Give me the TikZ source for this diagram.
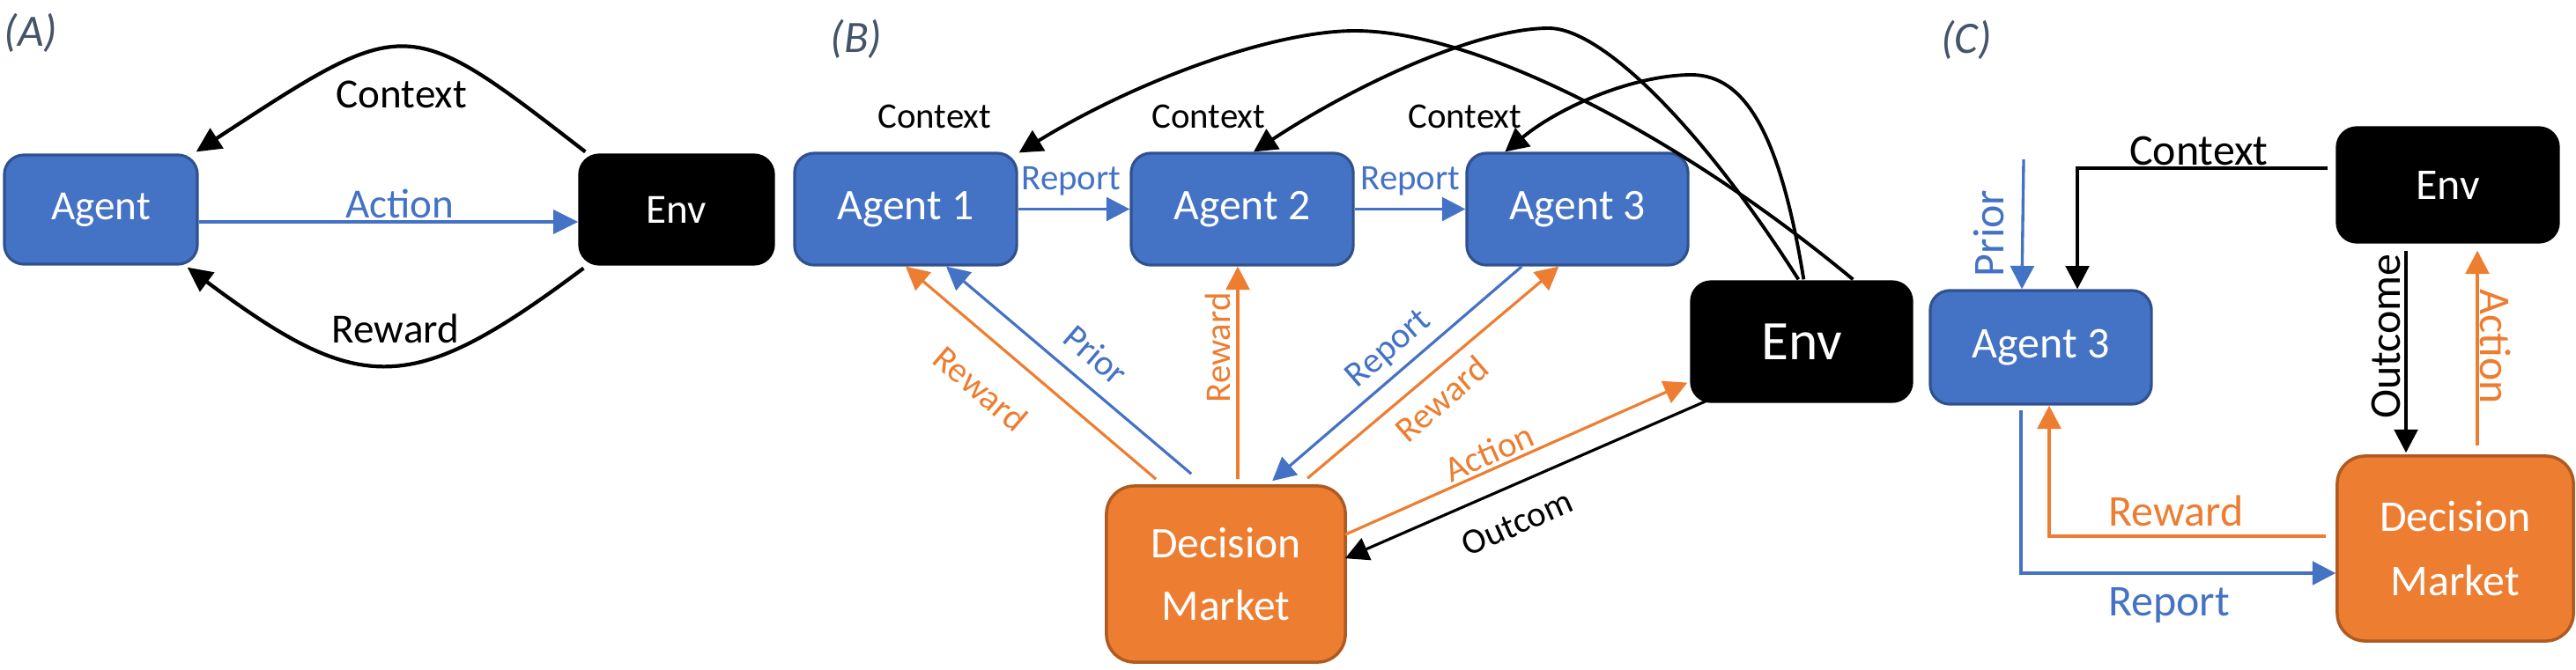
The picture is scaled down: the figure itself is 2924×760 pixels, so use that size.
\documentclass[tikz,border=0pt]{standalone}
\usepackage{fontspec}
\setmainfont{Carlito}
\usetikzlibrary{arrows.meta,calc}
\definecolor{blueF}{HTML}{4472C4}
\definecolor{blueD}{HTML}{2F528F}
\definecolor{orangeF}{HTML}{ED7D31}
\definecolor{orangeD}{HTML}{AE5A21}
\definecolor{panelgray}{HTML}{44546A}
\begin{document}
\begin{tikzpicture}[x=0.01cm,y=-0.01cm,
 tip/.style={-{Triangle[length=7.5pt,width=7.6pt]}},
 tipA/.style={-{Triangle[length=8pt,width=7.6pt]}},
 agentbox/.style={draw=blueD,fill=blueF,line width=0.9pt,rounded corners=6.3pt,text=white,inner sep=0pt},
 envbox/.style={draw=black,fill=black,line width=0.9pt,rounded corners=6.3pt,text=white,inner sep=0pt},
 dmbox/.style={draw=orangeD,fill=orangeF,line width=1pt,rounded corners=9pt,text=white,inner sep=0pt,align=center},
 fA/.style={font=\fontsize{13.4}{16}\selectfont},
 fB/.style={font=\fontsize{14.1}{20}\selectfont},
 fS/.style={font=\fontsize{11.6}{14}\selectfont},
 fC/.style={font=\fontsize{14.2}{20.5}\selectfont},
 panel/.style={font=\fontsize{14.5}{17}\selectfont\itshape,text=panelgray},
 wA/.style={line width=1.2pt},
 wB/.style={line width=0.9pt},
 wBc/.style={line width=1.1pt},
 wC/.style={line width=0.95pt},
]
\useasboundingbox (0,0) rectangle (2924,760);

% ---------------- (A) ----------------
\node[panel] (pA) at (35,37) {(A)};
\node[agentbox,fA,minimum width=2.19cm,minimum height=1.24cm] (agentA) at (114.5,238) {Agent};
\node[envbox,fA,minimum width=2.20cm,minimum height=1.24cm] (envA) at (768,238) {Env};
\draw[wA,tipA,blueF] ($(agentA.east)+(0,14)$) -- ($(envA.west)+(0,14)$);
\draw[wA,tipA] ($(envA.north west)+(8,-2)$) .. controls (461,15) and (463,15) .. ($(agentA.north east)+(-3,-2)$);
\draw[wA,tipA] ($(envA.south west)+(6,3)$) .. controls (467,451) and (410,451) .. ($(agentA.south east)+(-13,2)$);
\node[fA] (lctxA) at (456,107) {Context};
\node[fA,text=blueF] (lactA) at (454,231) {Action};
\node[fA] (lrewA) at (449,373) {Reward};

% ---------------- (B) ----------------
\node[panel] (pB) at (972,44) {(B)};
\node[agentbox,fB,minimum width=2.52cm,minimum height=1.27cm] (agent1) at (1028,237.5) {Agent 1};
\node[agentbox,fB,minimum width=2.52cm,minimum height=1.27cm] (agent2) at (1410,237.5) {Agent 2};
\node[agentbox,fB,minimum width=2.51cm,minimum height=1.27cm] (agent3) at (1790.5,237.5) {Agent 3};
\node[envbox,font=\fontsize{18}{20}\selectfont,minimum width=2.50cm,minimum height=1.36cm] (envB) at (2045,388) {Env};
\node[dmbox,fB,minimum width=2.71cm,minimum height=2.00cm] (dmB) at (1391.5,652) {Decision\\Market};

\draw[wB,tip,blueF] (agent1.east) -- (agent2.west);
\draw[wB,tip,blueF] (agent2.east) -- (agent3.west);
\node[fS,text=blueF] (lrep1) at (1216,206) {Report};
\node[fS,text=blueF] (lrep2) at (1601,206) {Report};

\draw[wBc,tip] ($(envB.north west)+(185,-1)$) .. controls (1900,149) and (1674,35) .. (1538,35)
   .. controls (1445,35) and (1291,91) .. ($(agent1.north east)+(1,1)$);
\draw[wBc,tip] ($(envB.north west)+(123,-1)$) .. controls (1933,147) and (1819,32) .. (1758,32)
   .. controls (1680,32) and (1545,92) .. ($(agent2.north)+(13,0)$);
\draw[wBc,tip] ($(envB.north west)+(129,-1)$) .. controls (2021,155) and (1982,85) .. (1920,85)
   .. controls (1856,85) and (1772,120) .. ($(agent3.north west)+(45,0)$);
\node[fS] (lctx1) at (1061,132) {Context};
\node[fS] (lctx2) at (1372,132) {Context};
\node[fS] (lctx3) at (1663,132) {Context};

\draw[wB,tip,orangeF] ($(dmB.north west)+(58,-6)$) -- (agent1.south);
\draw[wB,tip,blueF] ($(dmB.north west)+(98,-12)$) -- ($(agent1.south)+(46,0)$);
\draw[wB,tip,orangeF] ($(dmB.north)+(13.5,-6)$) -- ($(agent2.south)+(-5,0)$);
\draw[wB,tip,blueF] ($(agent3.south west)+(64,0)$) -- ($(dmB.north west)+(190,-4)$);
\draw[wB,tip,orangeF] ($(dmB.north west)+(230,-7)$) -- ($(agent3.south west)+(106,0)$);
\draw[wB,tip,orangeF] ($(dmB.north east)+(-2,57)$) -- ($(envB.south west)+(-3,-23)$);
\draw[wB,tip] ($(envB.south west)+(18,-2)$) -- ($(dmB.north east)+(-2,84)$);

\node[fS,text=orangeF,rotate=-40.6] (lrw1) at (1113,441) {Reward};
\node[fS,text=blueF,rotate=-40.6] (lpri) at (1244,403) {Prior};
\node[fS,text=orangeF,rotate=90] (lrw2) at (1382,395) {Reward};
\node[fS,text=blueF,rotate=41] (lrep3) at (1577,397) {Report};
\node[fS,text=orangeF,rotate=41] (lrw3) at (1636,453) {Reward};
\node[fS,text=orangeF,rotate=24] (lactB) at (1690,514) {Action};
\node[fS,rotate=24] (loutB) at (1722,594) {Outcom};

% ---------------- (C) ----------------
\node[panel] (pC) at (2232,45) {(C)};
\node[agentbox,fC,minimum width=2.51cm,minimum height=1.29cm] (agent3C) at (2316.5,394.5) {Agent 3};
\node[envbox,fC,minimum width=2.51cm,minimum height=1.30cm] (envC) at (2778.5,210) {Env};
\node[dmbox,fC,minimum width=2.68cm,minimum height=2.10cm] (dmC) at (2787,623) {Decision\\Market};
\coordinate (priorC) at (2297,181);

\draw[wC,tip] ($(envC.west)+(-9,-19)$) -| ($(agent3C.north)+(41.5,0)$);
\draw[wC,tip,blueF] (priorC) -- ($(agent3C.north)+(-21.5,0)$);
\draw[wC,tip] ($(envC.south)+(-47.5,8)$) -- ($(dmC.north)+(-56,-2)$);
\draw[wC,tip,orangeF] ($(dmC.north)+(25,-10)$) -- ($(envC.south)+(33.5,8)$);
\draw[wC,tip,orangeF] ($(dmC.west)+(-11,-14)$) -| ($(agent3C.south)+(9.5,0)$);
\draw[wC,tip,blueF] ($(agent3C.south)+(-22.5,5)$) |- ($(dmC.west)+(0,28)$);

\node[fC] (lctxC) at (2496,171) {Context};
\node[fC,text=blueF,rotate=90] (lpriC) at (2257,265) {Prior};
\node[fC,rotate=90] (loutC) at (2708,382) {Outcome};
\node[fC,text=orangeF,rotate=-90] (lactC) at (2833,394) {Action};
\node[fC,text=orangeF] (lrwC) at (2470,580) {Reward};
\node[fC,text=blueF] (lrepC) at (2462,687) {Report};
\end{tikzpicture}
\end{document}
